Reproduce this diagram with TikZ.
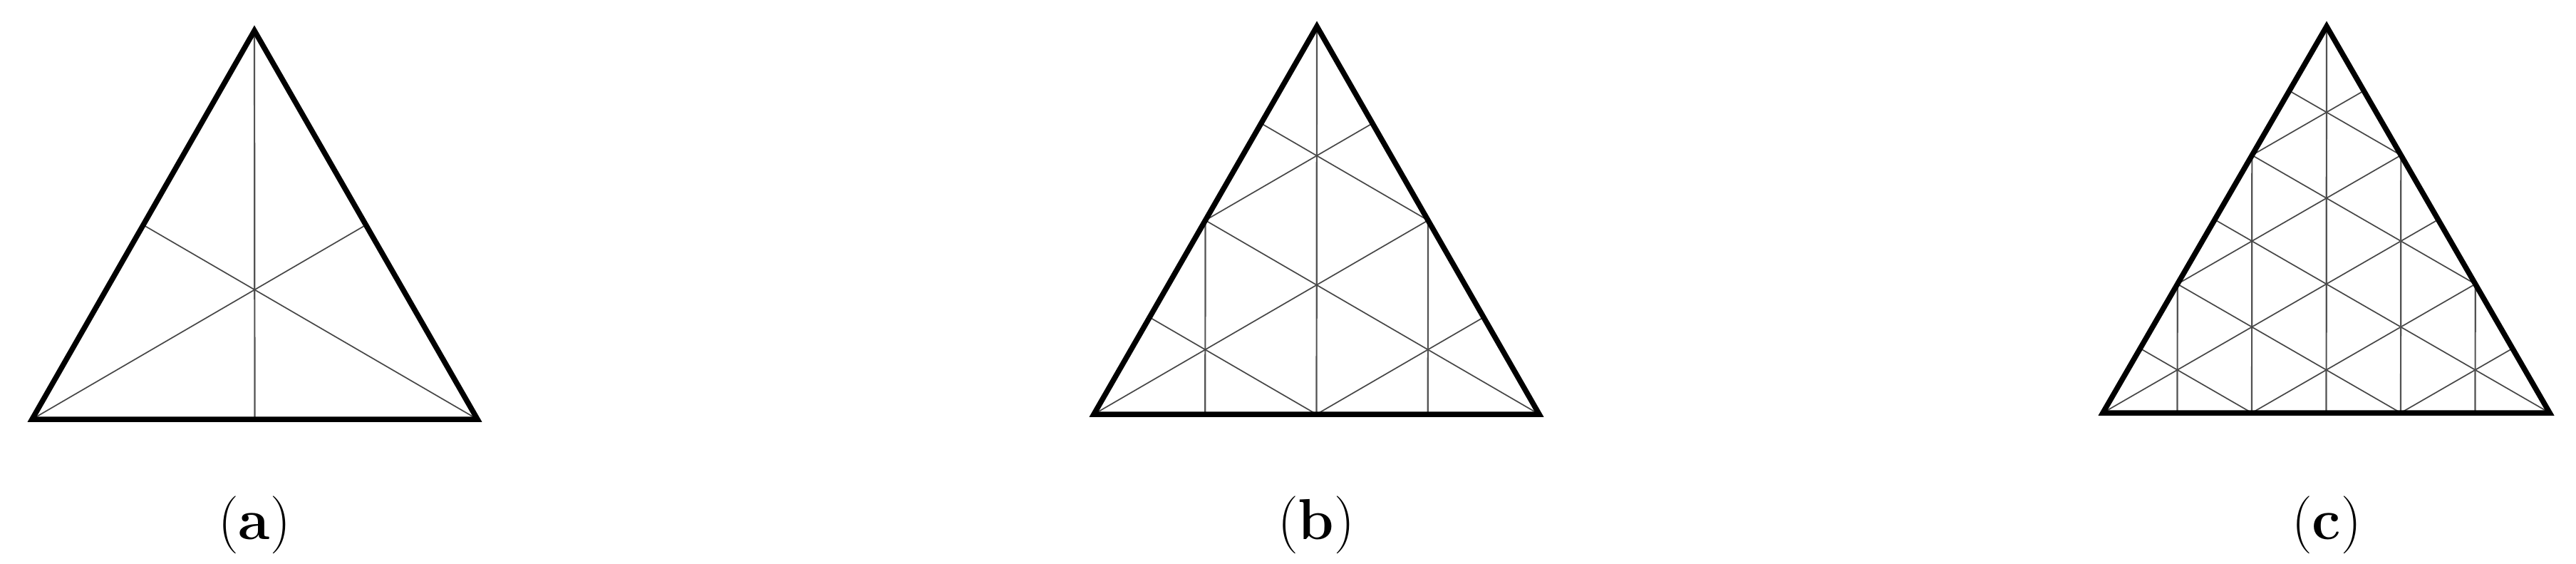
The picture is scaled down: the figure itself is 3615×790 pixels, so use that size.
\documentclass[tikz,border=0pt]{standalone}
\usetikzlibrary{calc}
\newcommand{\meshsides}[2]{% #1 prefix, #2 list of positions along each side
  \foreach \t in {#2}{
    \pgfmathsetmacro\ta{2*\t}%
    \pgfmathsetmacro\tb{2*(1-\t)}%
    \foreach \X/\Y/\Z/\cl/\lw in {#1A/#1B/#1C/black!68/0.022, #1B/#1C/#1A/black!72/0.017, #1C/#1A/#1B/black!72/0.017}{
      \ifdim\t pt>0.5pt
        \draw[draw=\cl, line width=\lw cm] ($(\X)!\t!(\Y)$) -- ($(\Y)!\tb!(\Z)$);
      \else
        \draw[draw=\cl, line width=\lw cm] ($(\X)!\t!(\Y)$) -- ($(\X)!\ta!(\Z)$);
      \fi
    }
  }
}
\begin{document}
\begin{tikzpicture}[x=0.01cm,y=-0.01cm,
  outline/.style={line width=0.075cm, line join=miter, draw=black},
  lab/.style={font=\fontsize{23}{27}\selectfont, inner sep=0pt}]
\useasboundingbox (0,0) rectangle (3615,790);

% triangle (a)
\coordinate (aA) at (45,588);
\coordinate (aB) at (670,588);
\coordinate (aC) at (357,43);
\meshsides{a}{0.5}
\draw[outline] (aA) -- (aB) -- (aC) -- cycle;
\node[lab] (la) at (357,736) {(\textbf{a})};

% triangle (b)
\coordinate (bA) at (1535,581);
\coordinate (bB) at (2160,581);
\coordinate (bC) at (1848,37);
\meshsides{b}{0.25,0.5,0.75}
\draw[outline] (bA) -- (bB) -- (bC) -- cycle;
\node[lab] (lb) at (1847,736) {(\textbf{b})};

% triangle (c)
\coordinate (cA) at (2951,579);
\coordinate (cB) at (3578,579);
\coordinate (cC) at (3265,37);
\meshsides{c}{0.166667,0.333333,0.5,0.666667,0.833333}
\draw[outline] (cA) -- (cB) -- (cC) -- cycle;
\node[lab] (lc) at (3265,736) {(\textbf{c})};
\end{tikzpicture}
\end{document}
